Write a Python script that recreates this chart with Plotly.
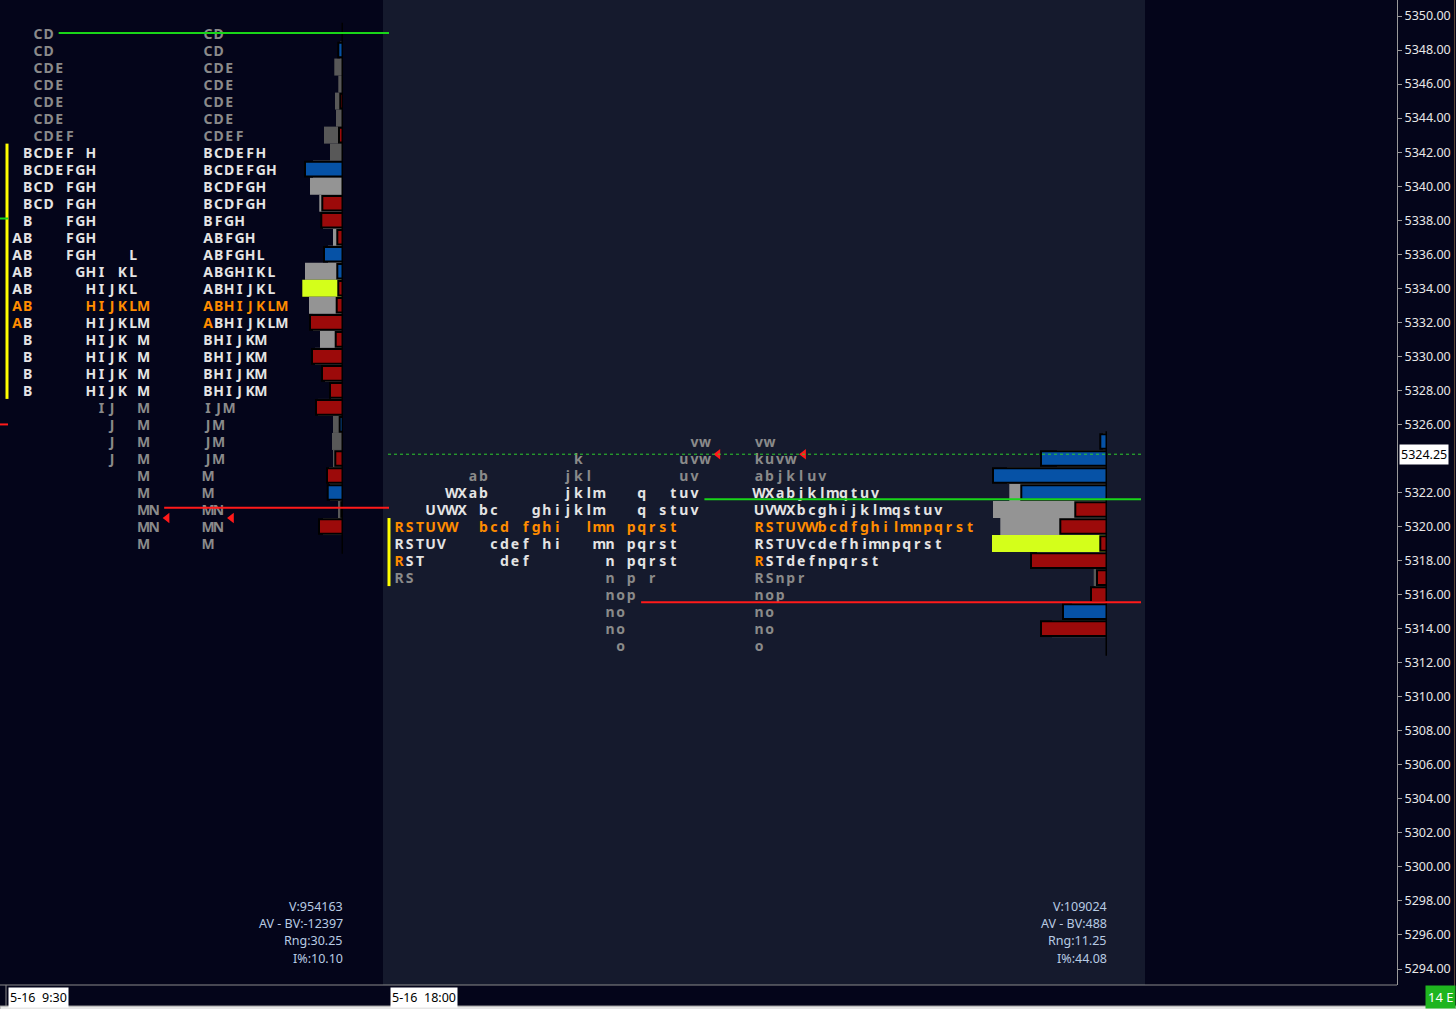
import plotly.graph_objects as go

# ---------------- data ----------------
# Regular session (RTH) market profile, 1-point rows
rth_periods = "ABCDEFGHIJKLMN"
rth_prices = [5349, 5348, 5347, 5346, 5345, 5344, 5343, 5342, 5341, 5340, 5339,
              5338, 5337, 5336, 5335, 5334, 5333, 5332, 5331, 5330, 5329, 5328,
              5327, 5326, 5325, 5324, 5323, 5322, 5321, 5320, 5319]
rth_tpo = ["CD", "CD", "CDE", "CDE", "CDE", "CDE", "CDEF", "BCDEFH", "BCDEFGH",
           "BCDFGH", "BCDFGH", "BFGH", "ABFGH", "ABFGHL", "ABGHIKL", "ABHIJKL",
           "ABHIJKLM", "ABHIJKLM", "BHIJKM", "BHIJKM", "BHIJKM", "BHIJKM", "IJM",
           "JM", "JM", "JM", "M", "M", "MN", "MN", "M"]
rth_vol = [0, 3, 8.7, 4.7, 8, 7, 19, 13, 30, 33, 23.7, 20, 10, 15, 38, 40.7, 34,
           30, 23, 28, 18, 12, 25, 10, 11, 10, 14, 13, 5, 20, 0]
rth_delta = [0, 4.7, 0, 0, -2.7, 0, -4, 0, 38, 0, -20.7, -21.7, -5.7, 19, 5.7,
             -4.7, -6.3, -33, -7.3, -31, -21, -13, -27, 3.3, 0, -7.7, -16, 15.3,
             -1.7, -24, 0]
rth_va = (5328, 5342)
rth_vol_va = (5328, 5341)
rth_poc = 5333
rth_vpoc = 5334
rth_ib = (5328, 5342)
rth_open = 5332
rth_close = 5320.5
rth_levels = [(5349.0, "#19d619", "solid"), (5321.1, "#ff1a1a", "solid")]
rth_stats = ["V:954163", "AV - BV:-12397", "Rng:30.25", "I%:10.10"]
rth_label = "5-16  9:30"

# Overnight session (ETH) market profile
eth_periods = "RSTUVWXabcdefghijklmnopqrstuvw"
eth_prices = [5325, 5324, 5323, 5322, 5321, 5320, 5319, 5318, 5317, 5316, 5315,
              5314, 5313]
eth_tpo = ["vw", "kuvw", "abjkluv", "WXabjklmqtuv", "UVWXbcghijklmqstuv",
           "RSTUVWbcdfghilmnpqrst", "RSTUVcdefhimnpqrst", "RSTdefnpqrst",
           "RSnpr", "nop", "no", "no", "o"]
eth_vol = [4, 50, 100, 97.7, 114, 106.7, 115, 70, 13.3, 12, 35, 55, 0]
eth_delta = [6.7, 66, 114, 85.7, -31.7, -46.7, -6.7, -76, -10, -16, 44, -66, 0]
eth_va = (5318, 5322)
eth_vol_va = (5318, 5322)
eth_poc = 5320
eth_vpoc = 5319
eth_ib = (5317, 5320)
eth_open = 5318
eth_last = 5324.25
eth_levels = [(5321.6, "#19d619", "solid"), (5315.55, "#ff1a1a", "solid")]
eth_stats = ["V:109024", "AV - BV:488", "Rng:11.25", "I%:44.08"]
eth_label = "5-16  18:00"

last_price = 5324.25
prev_marks = [(5338.1, "#19d619"), (5326.0, "#ff1a1a")]
axis_lo, axis_hi, axis_step = 5294, 5350, 2

# ---------------- style / layout constants ----------------
W, H = 1456, 1009
PW, PH = 1397, 985
Y_RANGE = [5293.06, 5350.94]
PX_PER_PT = PH / (Y_RANGE[1] - Y_RANGE[0])
TEXT_DY = 2 / PX_PER_PT          # small downward nudge of letters (2 px)
BG = "#04051a"
PANEL_BG = "#151a2d"
GRAY_T, WHITE_T, ORANGE_T = "#8a8a8a", "#e4e4e4", "#ff8c00"
BLUE, RED, YEL = "#0652a6", "#9c0a0a", "#d4ff1a"
VGRAY_IN, VGRAY_OUT = "#949494", "#585858"
FONT = "Noto Sans"
COL = 10.55

sessions = [
    dict(periods=rth_periods, prices=rth_prices, tpo=rth_tpo, vol=rth_vol,
         delta=rth_delta, va=rth_va, vva=rth_vol_va, poc=rth_poc, vpoc=rth_vpoc,
         ib=rth_ib, open=rth_open, mark=rth_close, levels=rth_levels,
         stats=rth_stats, label=rth_label,
         x0=17, cx0=208, edge=343, end=389, axis="x2"),
    dict(periods=eth_periods, prices=eth_prices, tpo=eth_tpo, vol=eth_vol,
         delta=eth_delta, va=eth_va, vva=eth_vol_va, poc=eth_poc, vpoc=eth_vpoc,
         ib=eth_ib, open=eth_open, mark=eth_last, levels=eth_levels,
         stats=eth_stats, label=eth_label,
         x0=399, cx0=759, edge=1107, end=1141, axis="x3"),
]

fig = go.Figure()
shapes = []
annotations = []

# middle session panel background
shapes.append(dict(type="rect", xref="x", yref="paper", x0=383, x1=1145, y0=0, y1=1,
                   fillcolor=PANEL_BG, line_width=0, layer="below"))

for s in sessions:
    per = s["periods"]
    xs, ys, ts, cs = [], [], [], []
    last_det, last_cond = {}, {}
    for p, row in zip(s["prices"], s["tpo"]):
        for j, ch in enumerate(row):
            if p == s["poc"]:
                c = ORANGE_T
            elif p == s["open"] and ch == per[0] and j == 0:
                c = ORANGE_T
            elif s["va"][0] <= p <= s["va"][1]:
                c = WHITE_T
            else:
                c = GRAY_T
            xd = s["x0"] + COL * per.index(ch)
            xc = s["cx0"] + COL * j
            xs += [xd, xc]
            ys += [p - TEXT_DY, p - TEXT_DY]
            ts += [ch, ch]
            cs += [c, c]
            last_det[p] = xd
            last_cond[p] = xc
    fig.add_trace(go.Scatter(x=xs, y=ys, text=ts, mode="text", xaxis="x", yaxis="y",
                             textposition="middle center",
                             textfont=dict(family=FONT, size=14, color=cs, weight="bold"),
                             hoverinfo="skip", showlegend=False))

    # volume histogram
    vcol = []
    for p in s["prices"]:
        if p == s["vpoc"]:
            vcol.append(YEL)
        elif s["vva"][0] <= p <= s["vva"][1]:
            vcol.append(VGRAY_IN)
        else:
            vcol.append(VGRAY_OUT)
    fig.add_trace(go.Bar(x=s["vol"], y=s["prices"], orientation="h", xaxis=s["axis"],
                         yaxis="y", width=1.0, marker=dict(color=vcol, line_width=0),
                         hoverinfo="skip", showlegend=False))
    # delta histogram
    dp = [p for p, d in zip(s["prices"], s["delta"]) if d != 0]
    dv = [abs(d) for d in s["delta"] if d != 0]
    dc = [BLUE if d > 0 else RED for d in s["delta"] if d != 0]
    fig.add_trace(go.Bar(x=dv, y=dp, orientation="h", xaxis=s["axis"], yaxis="y",
                         width=0.86, marker=dict(color=dc, line=dict(color="#000000", width=2)),
                         hoverinfo="skip", showlegend=False))
    # profile spine
    shapes.append(dict(type="line", xref=s["axis"], yref="y", x0=0, x1=0,
                       y0=max(s["prices"]) + 0.6, y1=min(s["prices"]) - 0.6,
                       line=dict(color="#000000", width=3)))
    # initial balance bar
    shapes.append(dict(type="line", xref="x", yref="y", x0=s["x0"] - 10, x1=s["x0"] - 10,
                       y0=s["ib"][0] - 0.5, y1=s["ib"][1] + 0.5,
                       line=dict(color="#ffff00", width=3)))
    # level lines
    for lv, col, dash in s["levels"]:
        r = int(lv + 0.5)
        shapes.append(dict(type="line", xref="x", yref="y", x0=last_det[r] + 10,
                           x1=s["end"], y0=lv, y1=lv, line=dict(color=col, width=2, dash=dash)))
    # close / last markers
    r = int(s["mark"] + 0.5)
    fig.add_trace(go.Scatter(x=[last_det[r] + 13, last_cond[r] + 13], y=[s["mark"]] * 2,
                             mode="markers", xaxis="x", yaxis="y",
                             marker=dict(symbol="triangle-left", size=9, color="#ff1a1a"),
                             hoverinfo="skip", showlegend=False))
    # stats
    for k, t in enumerate(s["stats"]):
        annotations.append(dict(xref="x", yref="paper", x=s["edge"] + 2,
                                y=(PH - (906 + 17.4 * k)) / PH, text=t, showarrow=False,
                                xanchor="right", yanchor="middle",
                                font=dict(family=FONT, size=12.5, color="#b8cbe3")))
    # time label
    annotations.append(dict(xref="x", yref="paper", x=s["x0"] - 9, y=(PH - 997) / PH,
                            text=s["label"], showarrow=False, xanchor="left", yanchor="middle",
                            bgcolor="#ffffff", borderpad=1,
                            font=dict(family=FONT, size=12.5, color="#000000")))

# last price dotted line across overnight session
shapes.append(dict(type="line", xref="x", yref="y", x0=388, x1=1141, y0=last_price,
                   y1=last_price, line=dict(color="#2ecc2e", width=1, dash="dot")))
# previous marks at left edge
for lv, col in prev_marks:
    shapes.append(dict(type="line", xref="x", yref="y", x0=0, x1=8, y0=lv, y1=lv,
                       line=dict(color=col, width=2)))
# bottom strip lines
shapes.append(dict(type="line", xref="paper", yref="paper", x0=0, x1=1, y0=0, y1=0,
                   line=dict(color="#8a8a8a", width=1)))
shapes.append(dict(type="line", xref="x", yref="paper", x0=6, x1=6, y0=0,
                   y1=(PH - 1006) / PH, line=dict(color="#8a8a8a", width=1)))
shapes.append(dict(type="rect", xref="paper", yref="paper", x0=0, x1=W / PW,
                   y0=(PH - 1006) / PH, y1=(PH - 1010) / PH, fillcolor="#e6e6e6",
                   line=dict(color="#9a9a9a", width=1)))
shapes.append(dict(type="line", xref="paper", yref="paper", x0=(W - 1.5) / PW,
                   x1=(W - 1.5) / PW, y0=(PH - 1006) / PH, y1=1,
                   line=dict(color="#5c4636", width=1)))

# axis ticks (the label under the current-price tag is hidden, as in the platform)
tickvals = [v for v in range(axis_lo, axis_hi + 1, axis_step) if abs(v - last_price) > 0.6]

# current price tag
annotations.append(dict(xref="paper", yref="y", x=1, xshift=2, y=last_price,
                        text=f"{last_price:.2f}", showarrow=False, xanchor="left",
                        yanchor="middle", bgcolor="#ffffff", borderpad=1,
                        font=dict(family=FONT, size=12.5, color="#000000")))
annotations.append(dict(xref="paper", yref="paper", x=W / PW, y=(PH - 997) / PH,
                        text="14 E", showarrow=False, xanchor="right", yanchor="middle",
                        bgcolor="#1fb51f", borderpad=2,
                        font=dict(family=FONT, size=13, color="#ffffff")))

fig.update_layout(
    width=W, height=H,
    margin=dict(l=0, r=W - PW, t=0, b=H - PH),
    paper_bgcolor=BG, plot_bgcolor="rgba(0,0,0,0)",
    barmode="overlay",
    showlegend=False,
    xaxis=dict(range=[0, PW], visible=False, fixedrange=True, domain=[0, 1]),
    xaxis2=dict(domain=[0, 343 / PW], range=[343, 0], visible=False, anchor="y"),
    xaxis3=dict(domain=[0, 1107 / PW], range=[1107, 0], visible=False, anchor="y"),
    yaxis=dict(range=Y_RANGE, side="right", tickvals=tickvals,
               tickformat=".2f", ticks="outside", ticklen=4, tickcolor="#9a9a9a",
               showline=True, linecolor="#9a9a9a", linewidth=1, showgrid=False,
               zeroline=False, anchor="x",
               tickfont=dict(family=FONT, size=12.5, color="#e8e8e8")),
    shapes=shapes,
    annotations=annotations,
)

fig.write_html("out.html", config={"displayModeBar": False},
               post_script="document.body.style.margin='0';")
